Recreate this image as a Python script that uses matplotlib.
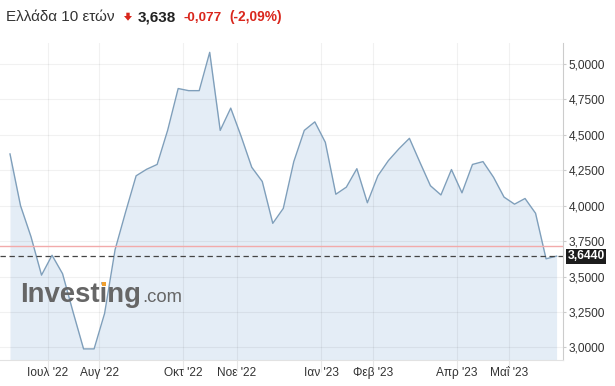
import numpy as np
import matplotlib.pyplot as plt
import matplotlib.transforms as mtransforms
from matplotlib.patches import Polygon, Rectangle

plt.rcParams['font.family'] = ['Liberation Sans', 'DejaVu Sans']

# weekly closes, Greece 10Y yield
yields = [4.364, 4.00, 3.78, 3.51, 3.65, 3.52, 3.25, 2.99, 2.99, 3.24,
          3.69, 3.955, 4.21, 4.256, 4.29, 4.531, 4.825, 4.81, 4.81, 5.08,
          4.53, 4.687, 4.486, 4.27, 4.17, 3.875, 3.98, 4.31, 4.53, 4.59,
          4.446, 4.08, 4.13, 4.26, 4.02, 4.21, 4.317, 4.40, 4.474, 4.305,
          4.14, 4.075, 4.254, 4.09, 4.29, 4.31, 4.20, 4.06, 4.01, 4.05,
          3.946, 3.625, 3.644]
prev_close = 3.715
last_value = 3.644

month_pos = [3.6, 8.5, 16.5, 21.6, 29.6, 34.5, 42.5, 47.5]
month_labels = ["Ιουλ '22", "Αυγ '22", "Οκτ '22", "Νοε '22",
                "Ιαν '23", "Φεβ '23", "Απρ '23", "Μαΐ '23"]
y_ticks = [3.0, 3.25, 3.5, 3.75, 4.0, 4.25, 4.5, 4.75, 5.0]

W, H = 615, 386

def fx(px):
    return px / W

def fy(py):
    return 1 - py / H

fig = plt.figure(figsize=(6.15, 3.86), dpi=100)
ax = fig.add_axes([0, fy(359.5), fx(563.3), (359.5 - 42.7) / H])

x = np.arange(len(yields))
ymin, ymax = 2.9154, 5.148
ax.fill_between(x, yields, ymin, color='#e4edf6', lw=0)
ax.plot(x, yields, color='#7f9fbb', lw=1.0)

ax.axhline(prev_close, color='#f2aaaa', lw=1.0)
ax.axhline(last_value, color='#444444', lw=0.9, ls=(0, (4.3, 2.9)))

ax.set_xlim(-0.951, 52.64)
ax.set_ylim(ymin, ymax)

for s in ['top', 'left']:
    ax.spines[s].set_visible(False)
ax.spines['right'].set_color('#cccccc')
ax.spines['bottom'].set_color('#e2e2e2')
ax.spines['right'].set_linewidth(0.8)
ax.spines['bottom'].set_linewidth(0.8)

ax.yaxis.tick_right()
ax.set_yticks(y_ticks)
ax.set_yticklabels([f"{v:.4f}".replace('.', ',') for v in y_ticks])
ax.set_xticks(month_pos)
ax.set_xticklabels(month_labels)

ax.tick_params(axis='y', length=2.5, width=0.8, color='#cccccc', pad=1.5,
               labelsize=8.6, labelcolor='#333333')
ax.tick_params(axis='x', length=8.6, width=0.8, color='#e8e8e8', pad=-3.3,
               labelsize=8.6, labelcolor='#333333')

ax.grid(axis='both', color='black', alpha=0.055, lw=0.8)

# last value box on the axis
trans = mtransforms.blended_transform_factory(ax.transAxes, ax.transData)
ax.text(1.0075, last_value, f"{last_value:.4f}".replace('.', ','), transform=trans,
        ha='left', va='center', fontsize=8.7, fontweight='bold', color='white',
        bbox=dict(boxstyle='square,pad=0.12', fc='#1c1c1c', ec='none'))

# header
base = fy(21)
fig.text(fx(6), base, "Ελλάδα 10 ετών", fontsize=11, color='#333333', va='baseline')
arrow = Polygon([(fx(126.3), fy(12.7)), (fx(129.7), fy(12.7)), (fx(129.7), fy(16)),
                 (fx(132), fy(16)), (fx(128), fy(20.7)), (fx(124), fy(16)),
                 (fx(126.3), fy(16))], closed=True, transform=fig.transFigure,
                fc='#d9261c', ec='none')
fig.patches.append(arrow)
fig.text(fx(138), base, "3,638", fontsize=11, fontweight='bold', color='#222222',
         va='baseline')
fig.text(fx(184), base, "-0,077", fontsize=9.7, fontweight='bold', color='#d9261c',
         va='baseline')
fig.text(fx(229), base, "(-2,09%)", fontsize=9.9, fontweight='bold', color='#d9261c',
         va='baseline')

# watermark
fig.text(fx(20.5), fy(301.7), "Investing", fontsize=19.8, fontweight='bold',
         color='#666666', va='baseline', zorder=5)
fig.text(fx(142), fy(301.7), ".com", fontsize=13.3, color='#666666', va='baseline',
         zorder=5)
dot = Rectangle((fx(101.8), fy(286)), fx(4.2), 4.2 / H, transform=fig.transFigure,
                fc='#f0a030', ec='none', zorder=6)
fig.patches.append(dot)

fig.savefig('out.png', dpi=100)
